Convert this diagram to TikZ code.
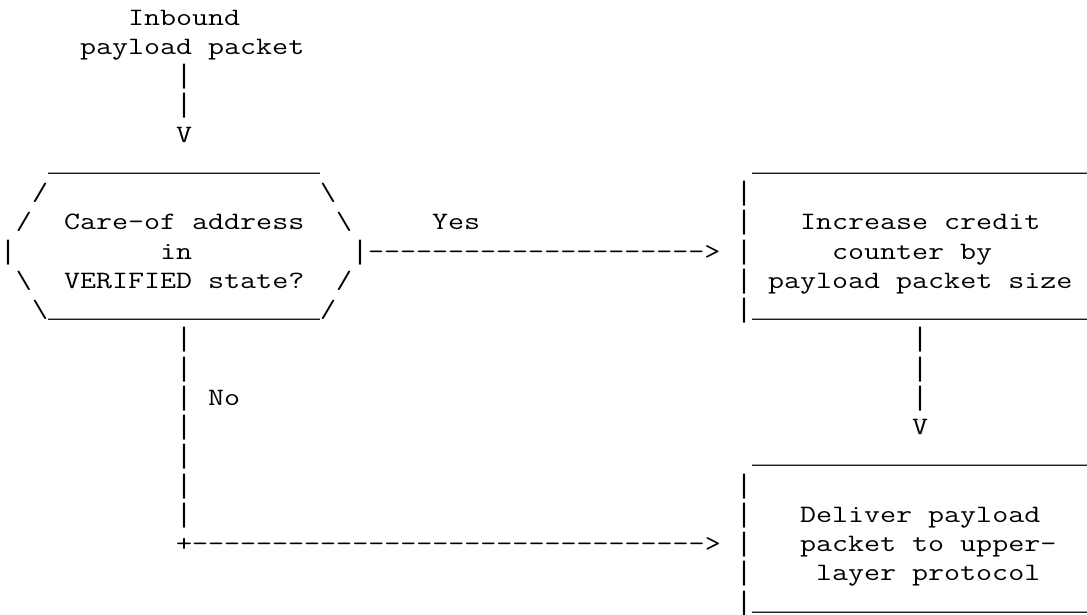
\documentclass[tikz,border=0pt]{standalone}
\usepackage{fontspec}
\setmonofont{Latin Modern Mono}[FakeStretch=1.2445]
\newfontfamily\libmono{Liberation Mono}
\ExplSyntaxOn
\cs_new:Npn \myrep #1#2 { \prg_replicate:nn {#1} {#2} }
\ExplSyntaxOff
\newcommand\libf{\libmono\fontsize{26.667}{29.25}\selectfont}
\newcommand\US[1]{{\libf\myrep{#1}{\_}}}
\newcommand\DS[1]{\myrep{#1}{-}}
\newcommand\VB{{\libf|}}
\newcommand\ascell[4]{\node[asc] (#1) at ({#2*16},{-25-#3*29.25}) {#4};}
\begin{document}
\begin{tikzpicture}[x=1pt,y=1pt,
  asc/.style={inner sep=0pt, outer sep=0pt, anchor=base west,
    font=\ttfamily\fontsize{25}{29.25}\selectfont, text=black}]
\useasboundingbox (0,0) rectangle (1087,-614);
% row 0-4: inbound
\ascell{inbound}{8}{0}{Inbound}
\ascell{payload}{5}{1}{payload packet}
\ascell{v1}{11}{2}{\VB}
\ascell{v2}{11}{3}{\VB}
\ascell{arrowA}{11}{4}{V}
% row 5
\ascell{dtop}{3}{5}{\US{17}}
\ascell{btop}{47}{5}{\US{21}}
% row 6
\ascell{dl6}{2}{6}{/}
\ascell{dr6}{20}{6}{\textbackslash}
\ascell{bl6}{46}{6}{\VB}
% row 7
\ascell{dl7}{1}{7}{/}
\ascell{q1}{4}{7}{Care-of address}
\ascell{dr7}{21}{7}{\textbackslash}
\ascell{yes}{27}{7}{Yes}
\ascell{bl7}{46}{7}{\VB}
\ascell{b1}{50}{7}{Increase credit}
% row 8
\ascell{dl8}{0}{8}{\VB}
\ascell{q2}{10}{8}{in}
\ascell{yesarrow}{22}{8}{\VB\DS{21}>}
\ascell{bl8}{46}{8}{\VB}
\ascell{b2}{52}{8}{counter by}
% row 9
\ascell{dl9}{1}{9}{\textbackslash}
\ascell{q3}{4}{9}{VERIFIED state?}
\ascell{dr9}{21}{9}{/}
\ascell{bl9}{46}{9}{\VB}
\ascell{b3}{48}{9}{payload packet size}
% row 10
\ascell{dbot}{2}{10}{\textbackslash\US{17}/}
\ascell{bbot}{46}{10}{\VB\US{21}}
% rows 11-17 left vertical, right vertical
\ascell{n11}{11}{11}{\VB}
\ascell{n12}{11}{12}{\VB}
\ascell{n13}{11}{13}{\VB}
\ascell{no}{13}{13}{No}
\ascell{n14}{11}{14}{\VB}
\ascell{n15}{11}{15}{\VB}
\ascell{n16}{11}{16}{\VB}
\ascell{n17}{11}{17}{\VB}
\ascell{r11}{57}{11}{\VB}
\ascell{r12}{57}{12}{\VB}
\ascell{r13}{57}{13}{\VB}
\ascell{arrowB}{57}{14}{V}
% second box
\ascell{ctop}{47}{15}{\US{21}}
\ascell{cl16}{46}{16}{\VB}
\ascell{cl17}{46}{17}{\VB}
\ascell{c1}{50}{17}{Deliver payload}
\ascell{noarrow}{11}{18}{+\DS{32}>}
\ascell{cl18}{46}{18}{\VB}
\ascell{c2}{50}{18}{packet to upper-}
\ascell{cl19}{46}{19}{\VB}
\ascell{c3}{51}{19}{layer protocol}
\ascell{cbot}{46}{20}{\VB\US{21}}
\end{tikzpicture}
\end{document}
